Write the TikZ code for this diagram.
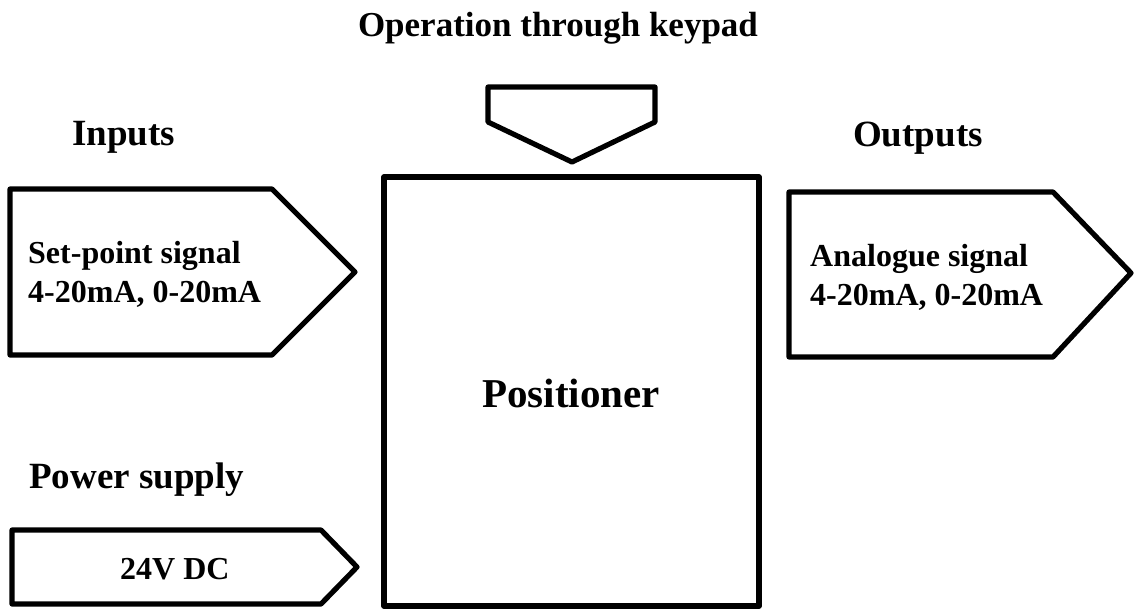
\documentclass[tikz,border=0pt]{standalone}
\usepackage{fontspec}
\setmainfont{Liberation Serif}
\begin{document}
\begin{tikzpicture}[x=1pt,y=-1pt,
  shape line/.style={draw=black,line width=5.2pt,line join=round,fill=white},
  head/.style={inner sep=0pt,anchor=base west,font=\bfseries\fontsize{37}{44}\selectfont},
  lbl/.style={inner sep=0pt,anchor=base west,align=left,font=\bfseries\fontsize{32}{38.5}\selectfont}]
\useasboundingbox (0,0) rectangle (1134,611);
% shapes
\draw[shape line] (384,177) rectangle (759,606);
\draw[shape line] (488,87) -- (655,87) -- (655,122) -- (572,162) -- (488,122) -- cycle;
\draw[shape line] (10,189) -- (272,189) -- (355,272) -- (272,355) -- (10,355) -- cycle;
\draw[shape line] (789,192) -- (1053,192) -- (1131,273) -- (1053,357) -- (789,357) -- cycle;
\draw[shape line] (12,530) -- (321,530) -- (357,567) -- (321,604) -- (12,604) -- cycle;
% texts
\node[inner sep=0pt,anchor=base,font=\bfseries\fontsize{35}{42}\selectfont] (op) at (558,36) {Operation through keypad};
\node[head] (inp) at (72,145) {Inputs};
\node[head] (outp) at (853,146) {Outputs};
\node[head] (pow) at (29,488) {Power supply};
\node[inner sep=0pt,anchor=base,font=\bfseries\fontsize{41}{48}\selectfont] (pos) at (571,407) {Positioner};
\node[lbl] (sp) at (28,302) {Set-point signal\\4-20mA, 0-20mA};
\node[lbl] (an) at (810,305) {Analogue signal\\4-20mA, 0-20mA};
\node[inner sep=0pt,anchor=base west,font=\bfseries\fontsize{32}{38}\selectfont] (dc) at (120,579) {24V DC};
\end{tikzpicture}
\end{document}
